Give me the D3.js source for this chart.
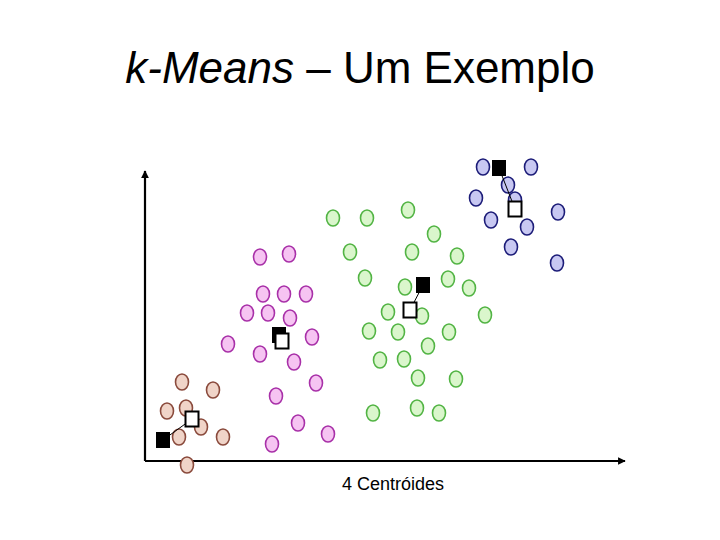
<!DOCTYPE html>
<html>
<head>
<meta charset="utf-8">
<script src="https://cdn.jsdelivr.net/npm/d3@7"></script>
<style>
  body { margin: 0; background: #fff; }
  svg { display: block; font-family: Arial, "Liberation Sans", sans-serif; }
</style>
</head>
<body>
<div id="chart"></div>
<script>
// cluster points (x, y in plot units)
var brownX = [37, 68, 22, 41, 56, 34, 78, 42];
var brownY = [79, 71, 50, 53, 34, 24, 24, -4];
var pinkX = [115, 144, 118, 139, 161, 102, 123, 145, 83, 115, 149, 167, 171, 131, 153, 183, 127];
var pinkY = [204, 207, 167, 167, 167, 148, 148, 143, 117, 107, 99, 124, 78, 65, 38, 27, 17];
var greenX = [188, 222, 263, 289, 205, 267, 312, 220, 260, 303, 324, 243, 277, 340, 224, 253, 304, 283, 235, 259, 273, 311, 228, 272, 294];
var greenY = [243, 243, 251, 227, 209, 209, 205, 183, 174, 182, 173, 149, 145, 146, 130, 129, 129, 115, 101, 102, 83, 82, 48, 53, 48];
var blueX = [338, 386, 363, 331, 370, 413, 346, 382, 366, 412];
var blueY = [294, 294, 276, 263, 261, 249, 241, 234, 214, 198];

// centroids: old (black) and new (white), order brown, pink, green, blue
var oldCx = [18, 134, 278, 354];
var oldCy = [21, 126, 176, 293];
var newCx = [47, 137, 265, 370];
var newCy = [42, 120, 151, 252];

var width = 720, height = 540;

var svg = d3.select("#chart").append("svg")
    .attr("width", width)
    .attr("height", height);

var x = d3.scaleLinear().domain([0, 480]).range([145, 625]);
var y = d3.scaleLinear().domain([0, 290]).range([461, 171]);

//title
var title = svg.append("text")
    .attr("x", 360)
    .attr("y", 83)
    .attr("text-anchor", "middle")
    .style("font-size", "44px")
    .style("fill", "#000");
title.append("tspan").style("font-style", "italic").text("k-Means");
title.append("tspan").text(" \u2013 Um Exemplo");

//arrow marker
svg.append("defs").append("marker")
    .attr("id", "arrow")
    .attr("viewBox", "0 0 10 10")
    .attr("refX", 9).attr("refY", 5)
    .attr("markerWidth", 3.5).attr("markerHeight", 3.5)
    .attr("orient", "auto")
  .append("path")
    .attr("d", "M0,0L10,5L0,10z")
    .attr("fill", "#000");

//axes
svg.append("line")
    .attr("x1", x(0)).attr("y1", y(0))
    .attr("x2", x(0)).attr("y2", y(290))
    .attr("stroke", "#000").attr("stroke-width", 2.2)
    .attr("marker-end", "url(#arrow)");
svg.append("line")
    .attr("x1", x(0)).attr("y1", y(0))
    .attr("x2", x(480)).attr("y2", y(0))
    .attr("stroke", "#000").attr("stroke-width", 2.2)
    .attr("marker-end", "url(#arrow)");

var clusters = [
  { xs: brownX, ys: brownY, fill: "#f0d4c8", stroke: "#8a4a3c" },
  { xs: pinkX, ys: pinkY, fill: "#f6c4f2", stroke: "#a830a8" },
  { xs: greenX, ys: greenY, fill: "#daf6cc", stroke: "#52b444" },
  { xs: blueX, ys: blueY, fill: "#c8c8f2", stroke: "#1c1c78" }
];

clusters.forEach(function(c) {
  svg.append("g").selectAll("ellipse")
      .data(d3.range(c.xs.length))
      .enter().append("ellipse")
      .attr("cx", function(i) { return x(c.xs[i]); })
      .attr("cy", function(i) { return y(c.ys[i]); })
      .attr("rx", 6.5)
      .attr("ry", 8)
      .attr("fill", c.fill)
      .attr("stroke", c.stroke)
      .attr("stroke-width", 1.6);
});

//centroid moves
var cent = svg.append("g");
d3.range(oldCx.length).forEach(function(i) {
  cent.append("line")
      .attr("x1", x(oldCx[i])).attr("y1", y(oldCy[i]))
      .attr("x2", x(newCx[i])).attr("y2", y(newCy[i]))
      .attr("stroke", "#000").attr("stroke-width", 1);
  cent.append("rect")
      .attr("x", x(oldCx[i]) - 7).attr("y", y(oldCy[i]) - 8)
      .attr("width", 14).attr("height", 16)
      .attr("fill", "#000");
  cent.append("rect")
      .attr("x", x(newCx[i]) - 6.5).attr("y", y(newCy[i]) - 7.5)
      .attr("width", 13).attr("height", 15)
      .attr("fill", "#fff")
      .attr("stroke", "#000").attr("stroke-width", 2);
});

//caption
svg.append("text")
    .attr("x", 393)
    .attr("y", 490)
    .attr("text-anchor", "middle")
    .style("font-size", "18px")
    .text("4 Centr\u00f3ides");
</script>
</body>
</html>
